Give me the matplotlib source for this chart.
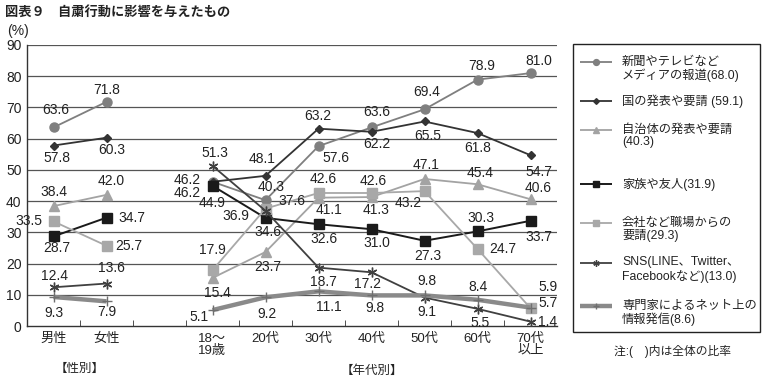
import matplotlib
matplotlib.use("Agg")
import matplotlib.pyplot as plt
from matplotlib.lines import Line2D
from matplotlib.patches import Rectangle

plt.rcParams['font.family'] = ['Liberation Sans', 'Noto Sans CJK JP']

# ---------------- data ----------------
gender_labels = ['男性', '女性']
age_labels = ['18～\n19歳', '20代', '30代', '40代', '50代', '60代', '70代\n以上']

media_gender = [63.6, 71.8]
media_age = [46.2, 40.3, 57.6, 63.6, 69.4, 78.9, 81.0]
nation_gender = [57.8, 60.3]
nation_age = [46.2, 48.1, 63.2, 62.2, 65.5, 61.8, 54.7]
local_gender = [38.4, 42.0]
local_age = [15.4, 23.7, 41.1, 41.3, 47.1, 45.4, 40.6]
family_gender = [28.7, 34.7]
family_age = [44.9, 34.6, 32.6, 31.0, 27.3, 30.3, 33.7]
work_gender = [33.5, 25.7]
work_age = [17.9, 37.6, 42.6, 42.6, 43.2, 24.7, 5.7]
sns_gender = [12.4, 13.6]
sns_age = [51.3, 36.9, 18.7, 17.2, 9.1, 5.5, 1.4]
expert_gender = [9.3, 7.9]
expert_age = [5.1, 9.2, 11.1, 9.8, 9.8, 8.4, 5.9]

series_names = [
    '新聞やテレビなど\nメディアの報道(68.0)',
    '国の発表や要請 (59.1)',
    '自治体の発表や要請\n(40.3)',
    '家族や友人(31.9)',
    '会社など職場からの\n要請(29.3)',
    'SNS(LINE、Twitter、\nFacebookなど)(13.0)',
    '専門家によるネット上の\n情報発信(8.6)',
]

# ---------------- styles ----------------
styles = [
    dict(color='#7f7f7f', marker='o', ms=6.5, lw=1.3, mec='#7f7f7f'),
    dict(color='#333333', marker='D', ms=4.5, lw=1.3, mec='#333333'),
    dict(color='#a3a3a3', marker='^', ms=7, lw=1.3, mec='#a3a3a3'),
    dict(color='#1a1a1a', marker='s', ms=7, lw=1.4, mec='#1a1a1a'),
    dict(color='#a8a8a8', marker='s', ms=7, lw=1.3, mec='#a8a8a8'),
    dict(color='#404040', marker=(6, 2, 0), ms=7, lw=1.3, mec='#404040', mew=1.0),
    dict(color='#8a8a8a', marker='+', ms=7, lw=3.2, mec='#6f6f6f', mew=1.0),
]

# label offsets in pixels (dx, dy down-positive) for [男,女,18-19,20,30,40,50,60,70]
offsets = [
    [(2, -17), (0, -12), (-25, -2), (6, -13), (17, 12), (5, -15), (2, -17), (4, -14), (8, -12)],
    [(3, 12), (5, 12), (-25, 11), (-3, -17), (-1, -13), (5, 12), (3, 15), (0, 15), (8, 17)],
    [(0, -14), (5, -14), (5, 15), (2, 15), (10, 12), (5, 13), (2, -14), (3, -11), (8, -11)],
    [(3, 12), (25, 0), (0, 17), (2, 14), (5, 15), (5, 14), (3, 15), (3, -13), (8, 16)],
    [(-25, 0), (22, 0), (0, -20), (26, -8), (5, -14), (2, -12), (-16, 12), (25, 0), (18, -5)],
    [(1, -11), (5, -16), (2, -13), (-30, 5), (5, 14), (-4, 12), (2, 14), (3, 14), (17, 0)],
    [(0, 16), (0, 11), (-14, 7), (1, 17), (10, 16), (3, 13), (2, -14), (0, -13), (17, -21)],
]

gender_x = [0, 1]
age_x = [3, 4, 5, 6, 7, 8, 9]

data = [
    (media_gender, media_age),
    (nation_gender, nation_age),
    (local_gender, local_age),
    (family_gender, family_age),
    (work_gender, work_age),
    (sns_gender, sns_age),
    (expert_gender, expert_age),
]

fig = plt.figure(figsize=(7.64, 3.83), dpi=100)
ax = fig.add_axes([27 / 764, 1 - 326 / 383, 530 / 764, 281 / 383])
ax.set_xlim(-0.5, 9.5)
ax.set_ylim(0, 90)

# grid
ax.set_yticks(range(0, 91, 10))
ax.tick_params(axis='y', length=0, labelsize=10, pad=4, labelcolor='#222222')
for v in range(10, 91, 10):
    ax.axhline(v, color='#555555', lw=0.9, zorder=0)
for s in ['top', 'right']:
    ax.spines[s].set_visible(False)
ax.spines['left'].set_color('#333333')
ax.spines['bottom'].set_color('#333333')
ax.spines['left'].set_linewidth(1.0)
ax.spines['bottom'].set_linewidth(1.0)

ax.set_xticks(gender_x + age_x)
ax.set_xticklabels(gender_labels + age_labels, fontsize=9.5, linespacing=1.0)
ax.tick_params(axis='x', length=0, pad=5, labelcolor='#222222')
ax.set_xticks([i + 0.5 for i in range(9)], minor=True)
ax.tick_params(axis='x', which='minor', length=4, direction='in', color='#333333')

for (g, a), st, offs in zip(data, styles, offsets):
    kw = dict(color=st['color'], lw=st['lw'], marker=st['marker'], ms=st['ms'],
              mfc=st['color'], mec=st['mec'], mew=st.get('mew', 1.0),
              solid_capstyle='butt', zorder=3)
    ax.plot(gender_x, g, **kw)
    ax.plot(age_x, a, **kw)
    xs = gender_x + age_x
    vals = list(g) + list(a)
    for x, v, (dx, dy) in zip(xs, vals, offs):
        ax.annotate(f'{v:.1f}', (x, v), xytext=(dx, -dy), textcoords='offset pixels',
                    ha='center', va='center', fontsize=10, color='#222222', zorder=5)

fig.text(5 / 764, 1 - 12 / 383, '図表９　自粛行動に影響を与えたもの', fontsize=9.5,
         fontweight='bold', family=['Noto Sans CJK JP'], va='center', ha='left', color='#222222')
fig.text(7 / 764, 1 - 31 / 383, '(%)', fontsize=10, va='center', ha='left', color='#222222')
fig.text(80 / 764, 1 - 369 / 383, '【性別】', fontsize=9, va='center', ha='center', color='#222222')
fig.text(372 / 764, 1 - 371 / 383, '【年代別】', fontsize=9, va='center', ha='center', color='#222222')
fig.text(672 / 764, 1 - 352 / 383, '注:(　)内は全体の比率', fontsize=8.5, va='center', ha='center', color='#222222')

# legend box
leg_ax = fig.add_axes([0, 0, 1, 1])
leg_ax.set_xlim(0, 764)
leg_ax.set_ylim(383, 0)
leg_ax.axis('off')
leg_ax.add_patch(Rectangle((572.5, 44), 187, 288, fill=False, ec='#222222', lw=1.0))
entry_y = [62, 101, 130, 184, 223, 263, 306]
for st, name, yy in zip(styles, series_names, entry_y):
    leg_ax.add_line(Line2D([580, 612], [yy, yy], color=st['color'], lw=st['lw'],
                           solid_capstyle='butt'))
    leg_ax.add_line(Line2D([596], [yy], marker=st['marker'], ms=st['ms'] * 0.65,
                           mfc=st['color'], mec=st['mec'], mew=st.get('mew', 1.0), ls='none'))
    leg_ax.text(622, yy - 6.5, name, fontsize=8.8, va='top', ha='left', linespacing=1.1,
                color='#222222')

fig.savefig('out.png', dpi=100)
